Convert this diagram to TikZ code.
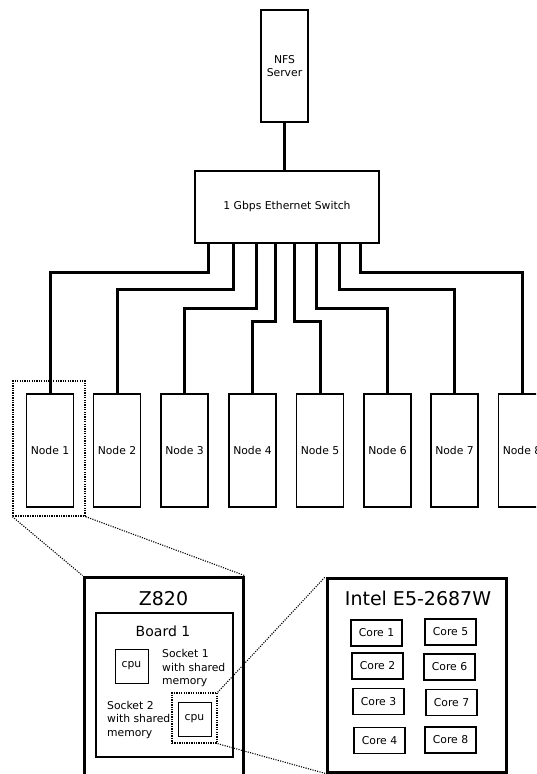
\documentclass[tikz,border=0pt]{standalone}
\usepackage{fontspec}
\setmainfont{DejaVu Sans}
\begin{document}
\begin{tikzpicture}[x=1pt,y=-1pt,
  sz/.style 2 args={minimum width=#1pt, minimum height=#2pt},
  txt/.style={font=\fontsize{10.8}{13.5}\selectfont},
  box/.style={draw, line width=1.2pt, inner sep=0pt, txt, align=center},
  heavybox/.style={draw, line width=3pt, inner sep=0pt},
  corebox/.style={draw, line width=1.6pt, inner sep=0pt, txt},
  cpubox/.style={draw, line width=0.9pt, inner sep=0pt, txt},
  dotbox/.style={draw, line width=1.3pt, dash pattern=on 1.3pt off 1.1pt, inner sep=0pt},
  wire/.style={line width=3pt},
  zoomline/.style={line width=1.1pt, dash pattern=on 1.1pt off 1.3pt},
  bigtitle/.style={font=\fontsize{19}{22}\selectfont, inner sep=0pt, anchor=base},
  midtitle/.style={font=\fontsize{14}{17}\selectfont, inner sep=0pt, anchor=base},
  socket/.style={txt, align=left, inner sep=0pt, anchor=north west}
]
\useasboundingbox (0,0) rectangle (536,774);
\clip (0,0) rectangle (536,774);
\fill[white] (0,0) rectangle (536,774);

% top
\node[box, sz={47}{112}] (nfs) at (284.5,66) {NFS\\Server};
\node[box, sz={184}{72}] (sw) at (287,207) {1 Gbps Ethernet Switch};
\draw[wire] (nfs.south) -- (nfs.south |- sw.north);

% compute nodes
\foreach \i/\x in {1/50,2/117,3/184.5,4/252.5,5/320,6/387.5,7/454.5,8/522}{
  \node[box, sz={47}{113}] (n\i) at (\x,450.5) {Node \i};
}

% wires
\draw[wire] (208,0 |- sw.south) -- (208,272) -| (n1.north);
\draw[wire] (233,0 |- sw.south) -- (233,289) -| (n2.north);
\draw[wire] (256,0 |- sw.south) -- (256,308) -| (n3.north);
\draw[wire] (275,0 |- sw.south) -- (275,321) -| (n4.north);
\draw[wire] (294,0 |- sw.south) -- (294,321) -| (n5.north);
\draw[wire] (316,0 |- sw.south) -- (316,308) -| (n6.north);
\draw[wire] (339,0 |- sw.south) -- (339,289) -| (n7.north);
\draw[wire] (360,0 |- sw.south) -- (360,272) -| (n8.north);

% zoom on node 1
\node[dotbox, sz={72}{135}] (zA) at (49,448.5) {};

% Z820 box
\node[heavybox, sz={159}{253}] (z820) at (163.5,703.5) {};
\node[bigtitle] (z820t) at (163.5,605) {Z820};
\node[box, sz={137}{144}] (board) at (164.5,685) {};
\node[midtitle] (boardt) at (163,636) {Board 1};
\node[cpubox, sz={33}{34}] (cpu1) at (131.5,666) {cpu};
\node[socket] (s1) at (162,649.5) {Socket 1\\with shared\\memory};
\node[dotbox, sz={45}{50}] (cpuz) at (194.5,718) {};
\node[cpubox, sz={33}{34}] (cpu2) at (194.5,719) {cpu};
\node[socket] (s2) at (107,701) {Socket 2\\with shared\\memory};

\draw[zoomline] (zA.south west) -- (z820.north west);
\draw[zoomline] (zA.south east) -- (z820.north east);

% Intel box
\node[heavybox, sz={179}{194}] (intel) at (416.5,675) {};
\node[bigtitle] (intelt) at (418,605) {Intel E5-2687W};
\node[corebox, sz={51}{26}] (c1) at (376.5,633) {Core 1};
\node[corebox, sz={51}{26}] (c2) at (377.5,666) {Core 2};
\node[corebox, sz={51}{26}] (c3) at (378.5,701.5) {Core 3};
\node[corebox, sz={51}{26}] (c4) at (379.5,740.5) {Core 4};
\node[corebox, sz={51}{26}] (c5) at (450.5,632) {Core 5};
\node[corebox, sz={51}{26}] (c6) at (449.5,667) {Core 6};
\node[corebox, sz={51}{26}] (c7) at (451.5,702.5) {Core 7};
\node[corebox, sz={51}{26}] (c8) at (450.5,740) {Core 8};

\draw[zoomline] (cpuz.north east) -- (intel.north west);
\draw[zoomline] (cpuz.south east) -- (intel.south west);
\end{tikzpicture}
\end{document}
